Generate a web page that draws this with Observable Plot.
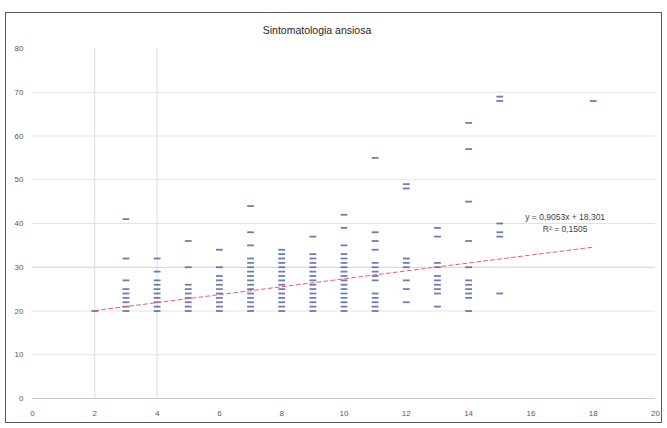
<!DOCTYPE html>
<html><head><meta charset="utf-8">
<script src="https://cdn.jsdelivr.net/npm/d3@7"></script>
<script src="https://cdn.jsdelivr.net/npm/@observablehq/plot@0.6"></script>
<style>
body{margin:0;background:#fff;}
#chart{position:absolute;left:5px;top:12px;}
#chart svg{border:1.5px solid #595959;display:block;background:#fff;}
</style></head><body><div id="chart"></div>
<script>
// ---- data ----
const title = "Sintomatologia ansiosa";
const xTicks = [0, 2, 4, 6, 8, 10, 12, 14, 16, 18, 20];
const yTicks = [0, 10, 20, 30, 40, 50, 60, 70, 80];
const yGrid = [10, 20, 40, 50, 60, 70];
const xGrid = [2, 4];
const colX = [2, 3, 4, 5, 6, 7, 8, 9, 10, 11, 12, 13, 14, 15, 18];
const col2 = [20];
const col3 = [20, 21, 22, 23, 24, 25, 27, 32, 41];
const col4 = [20, 21, 22, 23, 24, 25, 26, 27, 29, 32];
const col5 = [20, 21, 22, 23, 24, 25, 26, 30, 36];
const col6 = [20, 21, 22, 23, 24, 25, 26, 27, 28, 30, 34];
const col7 = [20, 21, 22, 23, 24, 25, 26, 27, 28, 29, 30, 31, 32, 35, 38, 44];
const col8 = [20, 21, 22, 23, 24, 25, 26, 27, 28, 29, 30, 31, 32, 33, 34];
const col9 = [20, 21, 22, 23, 24, 25, 26, 27, 28, 29, 30, 31, 32, 33, 37];
const col10 = [20, 21, 22, 23, 24, 25, 26, 27, 28, 29, 30, 31, 32, 33, 35, 39, 42];
const col11 = [20, 21, 22, 23, 24, 27, 28, 29, 30, 31, 34, 36, 38, 55];
const col12 = [22, 25, 27, 30, 31, 32, 48, 49];
const col13 = [21, 24, 25, 26, 27, 28, 30, 31, 37, 39];
const col14 = [20, 23, 24, 25, 26, 27, 30, 36, 45, 57, 63];
const col15 = [24, 37, 38, 40, 68, 69];
const col18 = [68];
const trendSlope = 0.9053;
const trendIntercept = 18.301;
const trendXRange = [2, 18];
const trendLabel = ["y = 0,9053x + 18,301", "R² = 0,1505"];

// ---- build tables ----
const columns = [col2, col3, col4, col5, col6, col7, col8, col9, col10, col11, col12, col13, col14, col15, col18];
const points = columns.flatMap((vals, i) => vals.map(v => ({x: colX[i], y: v})));
const trend = trendXRange.map(x => ({x, y: trendSlope * x + trendIntercept}));

const dash = {draw(ctx) { const w = 3.4, h = 0.9;
  ctx.moveTo(-w, -h); ctx.lineTo(w, -h); ctx.lineTo(w, h); ctx.lineTo(-w, h); ctx.closePath(); }};

const font = "'Liberation Sans', Arial, sans-serif";
const chart = Plot.plot({
  width: 655, height: 409,
  marginLeft: 26, marginRight: 6, marginTop: 35, marginBottom: 24,
  style: {fontFamily: font, fontSize: "8px", color: "#595959", background: "#fff"},
  x: {domain: [0, 20], ticks: xTicks, tickSize: 0, tickPadding: 12, label: null},
  y: {domain: [0, 80], ticks: yTicks, tickSize: 0, tickPadding: 9, label: null},
  marks: [
    Plot.ruleY(yGrid, {stroke: "#e3e3e3", strokeWidth: 1}),
    Plot.ruleY([30], {stroke: "#cfcfcf", strokeWidth: 1}),
    Plot.ruleX(xGrid, {stroke: "#dcdcdc", strokeWidth: 1}),
    Plot.ruleY([0], {stroke: "#c8c8c8", strokeWidth: 1}),
    Plot.dot(points, {x: "x", y: "y", symbol: dash, fill: "#4a5b9c", fillOpacity: 0.8, stroke: "none"}),
    Plot.line(trend, {x: "x", y: "y", stroke: "#e0607a", strokeWidth: 1, strokeDasharray: "4,3"}),
    Plot.text([trendLabel.join("\n")], {x: 17.1, y: 40.3, text: d => d, fontSize: 8.5, fill: "#404040", lineHeight: 1.4}),
    Plot.text([title], {frameAnchor: "top", dx: -27, dy: -22, text: d => d, fontSize: 10.5, fill: "#262626"})
  ]
});
document.getElementById("chart").appendChild(chart);
</script></body></html>
